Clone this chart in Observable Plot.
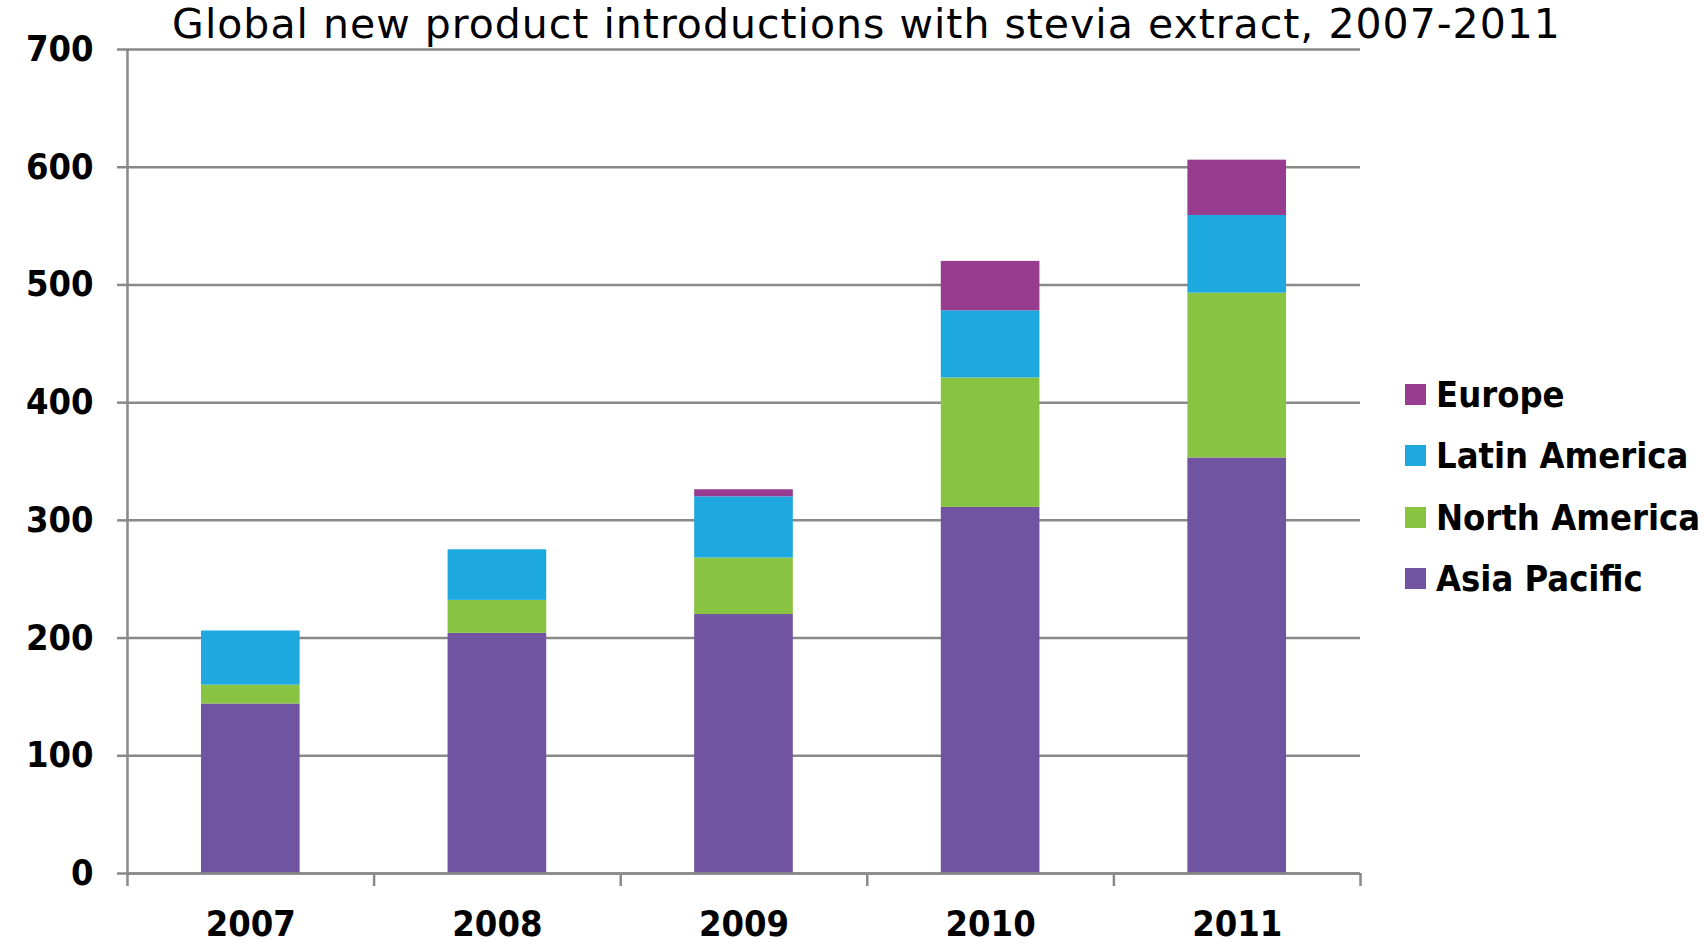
<!DOCTYPE html>
<html>
<head>
<meta charset="utf-8">
<script src="https://cdn.jsdelivr.net/npm/d3@7"></script>
<script src="https://cdn.jsdelivr.net/npm/@observablehq/plot@0.6"></script>
<style>
  html, body { margin: 0; padding: 0; background: #fff; }
  #wrap { position: relative; width: 1704px; height: 944px; overflow: hidden; }
  #chart { position: absolute; left: 0; top: 0; }
  #title {
    position: absolute; left: 0; width: 1733px; top: 0px; text-align: center;
    font-family: "DejaVu Sans", Verdana, sans-serif; font-size: 41px; line-height: 48px;
    letter-spacing: 1px; color: #000; white-space: nowrap;
  }
  #legend {
    position: absolute; left: 1405px; top: 364px;
    font-family: "DejaVu Sans Condensed", "DejaVu Sans", sans-serif; font-stretch: condensed;
    font-weight: bold; font-size: 36px; color: #000;
  }
  .item { display: flex; align-items: center; height: 61.3px; white-space: nowrap; }
  .swatch { width: 21px; height: 21px; margin-right: 10px; flex: none; }
</style>
</head>
<body>
<div id="wrap">
  <div id="chart"></div>
  <div id="title"></div>
  <div id="legend"></div>
</div>
<script>
// Stevia-extract product launches per region and year
const title = "Global new product introductions with stevia extract, 2007-2011";
const years = [2007, 2008, 2009, 2010, 2011];
const regions = ["Asia Pacific", "North America", "Latin America", "Europe"];
const asiaPacific = [144, 204, 220, 311, 353];
const northAmerica = [16, 28, 48, 110, 140];
const latinAmerica = [46, 43, 52, 57, 66];
const europe = [0, 0, 6, 42, 47];
const regionColors = ["#7053a1", "#88c442", "#1ea8e0", "#973c8f"];
const yTicks = [0, 100, 200, 300, 400, 500, 600, 700];

const series = [asiaPacific, northAmerica, latinAmerica, europe];
const rows = years.flatMap((year, i) =>
  regions.map((region, j) => ({year, region, value: series[j][i]}))
);

// category boundaries on the year axis, where the tick marks sit
const boundaries = [...years.map(y => y - 0.5), years[years.length - 1] + 0.5];

const gray = "#898989";
const halfBar = 0.2;

const chart = Plot.plot({
  width: 1704,
  height: 944,
  marginLeft: 127,
  marginRight: 344,
  marginTop: 49,
  marginBottom: 71,
  style: {
    fontFamily: '"DejaVu Sans Condensed", "DejaVu Sans", sans-serif',
    fontStretch: "condensed",
    fontWeight: "bold",
    fontSize: "36px",
    color: "#000",
    background: "#fff"
  },
  x: {domain: [boundaries[0], boundaries[boundaries.length - 1]], label: null},
  y: {domain: [0, 700], label: null},
  color: {domain: regions, range: regionColors},
  marks: [
    Plot.gridY(yTicks, {stroke: gray, strokeOpacity: 1, strokeWidth: 2.5}),
    Plot.axisY(yTicks, {tickSize: 10, tickPadding: 24, stroke: gray, strokeWidth: 2.5, label: null, tickFormat: d => String(d)}),
    Plot.ruleX([boundaries[0]], {stroke: gray, strokeWidth: 2.5}),
    Plot.axisX(boundaries, {tickSize: 13, stroke: gray, strokeWidth: 2.5, tickFormat: () => "", label: null}),
    Plot.axisX(years, {tickSize: 0, tickPadding: 37, tickFormat: d => String(d), label: null}),
    Plot.rectY(rows, Plot.stackY({
      x1: d => d.year - halfBar,
      x2: d => d.year + halfBar,
      y: "value",
      fill: "region",
      order: regions,
      filter: d => d.value > 0
    })),
    Plot.ruleY([0], {stroke: gray, strokeWidth: 2.5})
  ]
});
document.getElementById("chart").append(chart);

document.getElementById("title").textContent = title;

// legend lists the regions top-down in reverse stacking order
const legend = document.getElementById("legend");
regions.slice().reverse().forEach(region => {
  const item = document.createElement("div");
  item.className = "item";
  const sw = document.createElement("span");
  sw.className = "swatch";
  sw.style.background = regionColors[regions.indexOf(region)];
  const label = document.createElement("span");
  label.textContent = region;
  item.append(sw, label);
  legend.append(item);
});
</script>
</body>
</html>
